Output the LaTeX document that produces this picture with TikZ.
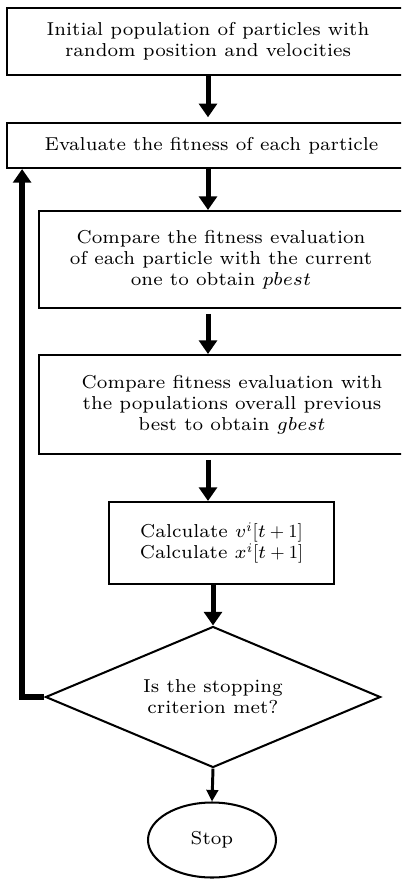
\documentclass[tikz,border=0pt]{standalone}
\usepackage{amsmath}
\usepackage{fontspec}
\setmainfont{lmroman7-regular.otf}[ItalicFont=lmroman7-italic.otf, BoldFont=lmroman7-bold.otf]
\DeclareFontShape{OML}{cmm}{m}{it}{<->cmmi7}{}
\usepackage{tikz}
\usetikzlibrary{positioning,arrows.meta,calc,shapes.geometric}

\begin{document}
\begin{tikzpicture}[
  box/.style={draw, line width=1.1pt, align=center, inner sep=2pt, font=\fontsize{10.1}{11.4}\selectfont},
  arr/.style={-{Triangle[length=2.6mm, width=3.4mm]}, line width=2.7pt},
  thinarr/.style={-{Triangle[length=2.2mm, width=2.2mm]}, line width=1.6pt},
  loop/.style={-{Triangle[length=2.6mm, width=3.4mm]}, line width=3.2pt, line join=miter}
]
\useasboundingbox (0,0) rectangle (76.19mm,-167.01mm);
\clip (0,0) rectangle (76.19mm,-167.01mm);
\node[box, minimum width=76.38mm, minimum height=12.73mm]
  (init) at (39.52mm,-7.89mm) {Initial population of particles with\\ random position and velocities};
\node[box, minimum width=77.71mm, minimum height=8.55mm]
  (eval) at (40.19mm,-27.65mm) {Evaluate the fitness of each particle};
\node[box, minimum width=69.16mm, minimum height=18.43mm]
  (pbest) at (41.99mm,-49.31mm) {Compare the fitness evaluation\\ of each particle with the current\\ one to obtain $pbest$};
\node[box, minimum width=73.34mm, minimum height=18.81mm]
  (gbest) at (44.08mm,-76.86mm) {Compare fitness evaluation with\\ the populations overall previous\\ best to obtain $gbest$};
\node[box, minimum width=42.75mm, minimum height=15.58mm]
  (update) at (42.09mm,-103.17mm) {Calculate $v^i[t+1]$\\ Calculate $x^i[t+1]$};
\node[box, diamond, aspect=2.4, inner sep=0pt, minimum width=63.65mm, minimum height=26.79mm]
  (check) at (40.47mm,-132.43mm) {Is the stopping\\ criterion met?};
\node[box, ellipse, minimum width=24.32mm, minimum height=14.25mm]
  (stop) at (40.28mm,-159.6mm) {Stop};
\coordinate (corner) at (4.2mm,-132.43mm);
\draw[arr, shorten >=0.9mm] (init.south) -- (init.south |- eval.north);
\draw[arr] (init.south |- eval.south) -- (init.south |- pbest.north);
\draw[arr, shorten <=0.9mm] (init.south |- pbest.south) -- (init.south |- gbest.north);
\draw[arr, shorten <=0.9mm] (init.south |- gbest.south) -- (init.south |- update.north);
\draw[arr] (check.north |- update.south) -- (check.north);
\draw[thinarr] (check.south) -- (stop.north);
\draw[loop] (check.west) -- (corner) -- (corner |- eval.south);
\end{tikzpicture}
\end{document}
